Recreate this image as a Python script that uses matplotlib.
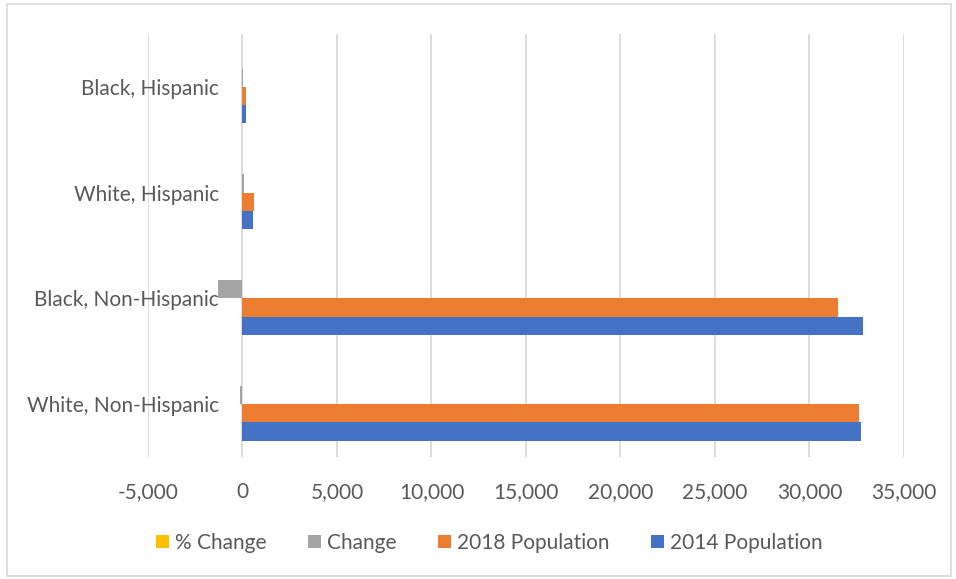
import matplotlib.pyplot as plt
import numpy as np

categories = ["White, Non-Hispanic", "Black, Non-Hispanic", "White, Hispanic", "Black, Hispanic"]
pop_2014 = [32720, 32820, 540, 170]
pop_2018 = [32600, 31520, 600, 180]
change = [-120, -1300, 60, 10]
pct_change = [-0.004, -0.040, 0.111, 0.059]

series = [
    ("2014 Population", pop_2014, "#4472C4"),
    ("2018 Population", pop_2018, "#ED7D31"),
    ("Change", change, "#A5A5A5"),
    ("% Change", pct_change, "#FFC000"),
]

plt.rcParams['font.family'] = ['Lato', 'DejaVu Sans']

fig = plt.figure(figsize=(9.56, 5.79), dpi=100)
ax = fig.add_axes([0.1548, 0.2107, 0.7908, 0.7306])

y = np.arange(len(categories))
h = 0.173
offsets = [-1.5 * h, -0.5 * h, 0.5 * h, 1.5 * h]
handles = []
for (name, vals, color), off in zip(series, offsets):
    b = ax.barh(y + off, vals, height=h, color=color, label=name, zorder=3)
    handles.append(b)

ax.set_xlim(-5000, 35000)
ax.set_ylim(-0.5, len(categories) - 0.5)
ax.set_xticks(np.arange(-5000, 35001, 5000))
ax.xaxis.set_major_formatter(plt.FuncFormatter(lambda v, p: f"{int(v):,}"))
ax.set_yticks(y)
ax.set_yticklabels(categories)
ax.grid(axis='x', color='#d9d9d9', linewidth=1.3, zorder=0)
ax.set_axisbelow(True)
for s in ax.spines.values():
    s.set_visible(False)
ax.tick_params(axis='x', length=0, pad=18, labelsize=15, labelcolor='#595959')
ax.tick_params(axis='y', length=0, pad=-51, labelsize=15, labelcolor='#595959')

fig.legend(handles[::-1], [s[0] for s in series][::-1], loc='center',
           bbox_to_anchor=(0.512, 0.062), ncol=4, frameon=False,
           fontsize=15, labelcolor='#595959', handlelength=0.6,
           handleheight=0.6, columnspacing=2.0, handletextpad=0.3)

border = plt.Rectangle((0.007, 0.005), 0.988, 0.988, transform=fig.transFigure,
                       fill=False, edgecolor='#d9d9d9', linewidth=1.2)
fig.patches.append(border)

fig.savefig("out.png", dpi=100)
